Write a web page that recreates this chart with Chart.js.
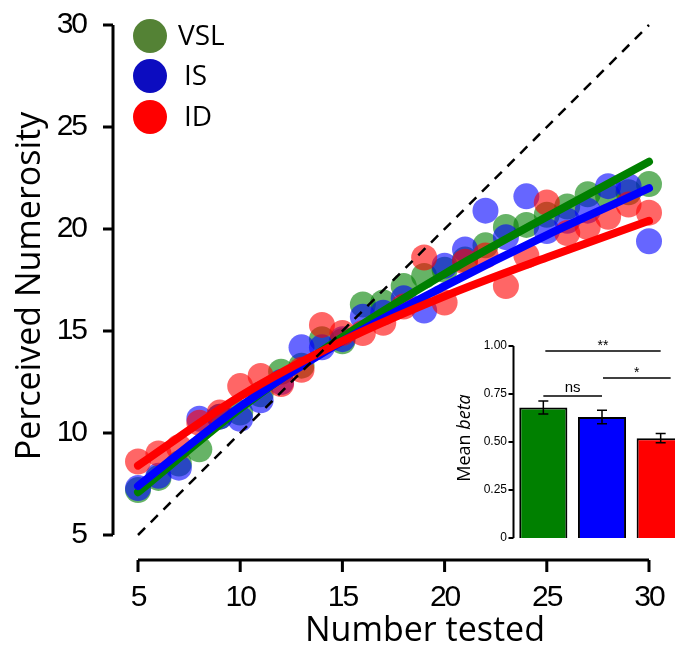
<!DOCTYPE html>
<html>
<head>
<meta charset="utf-8">
<script src="https://cdn.jsdelivr.net/npm/chart.js@4.4.1/dist/chart.umd.min.js"></script>
<style>
html,body{margin:0;padding:0;background:#fff;overflow:hidden}
#wrap{position:relative;width:675px;height:646px;overflow:hidden}
#main{position:absolute;left:0;top:0}
#inset{position:absolute;left:440px;top:330px}
</style>
</head>
<body>
<div id="wrap">
  <canvas id="main" width="675" height="646"></canvas>
  <canvas id="inset" width="250" height="230"></canvas>
</div>
<script>
// ---------- data ----------
const NUMBERS = [5,6,7,8,9,10,11,12,13,14,15,16,17,18,19,20,21,22,23,24,25,26,27,28,29,30];
const VSL = [7.2,7.8,8.5,9.2,10.8,11.0,11.9,13.0,13.3,14.6,14.5,16.3,16.4,17.2,17.7,18.0,18.5,19.2,20.1,20.2,20.7,21.1,21.7,21.6,21.8,22.2];
const IS  = [7.3,7.9,8.3,10.7,10.8,10.7,11.6,12.5,14.2,14.2,14.6,15.7,15.9,16.6,16.0,18.2,19.0,20.9,19.6,21.6,19.9,20.4,20.9,22.1,22.1,19.4];
const ID  = [8.6,9.0,9.3,10.5,11.0,12.3,12.8,12.4,13.1,15.3,14.9,14.9,15.4,16.2,18.6,16.4,18.4,18.7,17.2,18.7,21.3,19.8,20.1,20.6,21.2,20.8];

// fitted curves, sampled
const FIT_X   = [5,10,15,20,25,30];
const VSL_FIT = [7.1,11.2,14.7,17.8,20.6,23.3];
const IS_FIT  = [7.4,11.3,14.5,17.2,19.7,22.0];
const ID_FIT  = [8.4,11.8,14.5,16.7,18.6,20.4];

const AXIS_TICKS = [5,10,15,20,25,30];

// inset: mean beta per condition
const CONDITIONS = ["VSL","IS","ID"];
const BETA_MEAN  = [0.68,0.63,0.52];
const BETA_ERR   = [0.034,0.035,0.024];
const BETA_TICKS = [0,0.25,0.5,0.75,1];

// ---------- helpers ----------
const NARROW = "'Liberation Sans Narrow','Liberation Sans',Arial,sans-serif";
const SANS = "'Open Sans',Lato,sans-serif";
const pts = (xs,ys) => xs.map((x,i)=>({x,y:ys[i]}));

const COLORS = {
  VSL:{pt:"rgba(0,128,0,0.6)", line:"#008000", key:"#548235"},
  IS: {pt:"rgba(0,0,255,0.6)", line:"#0000ff", key:"#0c0cc0"},
  ID: {pt:"rgba(255,0,0,0.6)", line:"#ff0000", key:"#ff0000"}
};

function scatterSet(label,ys,order){
  return {type:"scatter",label,data:pts(NUMBERS,ys),order,clip:false,
    pointRadius:13,pointHoverRadius:13,borderWidth:0,
    backgroundColor:COLORS[label].pt,pointBackgroundColor:COLORS[label].pt};
}
function fitSet(label,ys,order){
  return {type:"line",label:label+" fit",data:pts(FIT_X,ys),order,clip:false,
    borderColor:COLORS[label].line,borderWidth:8,borderCapStyle:"round",
    pointRadius:0,fill:false,cubicInterpolationMode:"monotone"};
}

// axes drawn as offset frame + titles + legend
const framePlugin = {
  id:"frame",
  beforeDraw(chart){ chart.ctx.letterSpacing="-2px"; },
  afterDraw(chart){
    const {ctx,scales:{x,y}} = chart;
    const axX = 113, axY = 560;
    ctx.save();
    ctx.letterSpacing="0px";
    ctx.strokeStyle="#000"; ctx.lineWidth=3; ctx.lineCap="butt";
    ctx.beginPath();
    ctx.moveTo(axX,y.getPixelForValue(30)); ctx.lineTo(axX,y.getPixelForValue(5));
    y.ticks.forEach(t=>{const p=y.getPixelForValue(t.value);ctx.moveTo(axX,p);ctx.lineTo(axX-10,p);});
    ctx.moveTo(x.getPixelForValue(5),axY); ctx.lineTo(x.getPixelForValue(30),axY);
    x.ticks.forEach(t=>{const p=x.getPixelForValue(t.value);ctx.moveTo(p,axY);ctx.lineTo(p,axY+12);});
    ctx.stroke();

    ctx.fillStyle="#000";
    ctx.font="34px "+SANS;
    ctx.textAlign="center"; ctx.textBaseline="middle";
    ctx.fillText("Number tested",425,631);
    ctx.save();
    ctx.translate(30,286); ctx.rotate(-Math.PI/2);
    ctx.fillText("Perceived Numerosity",0,0);
    ctx.restore();

    // legend
    const keys = ["VSL","IS","ID"], ky=[36,76,117], kx=[178,184,184];
    ctx.font="28px "+SANS; ctx.textAlign="left";
    keys.forEach((k,i)=>{
      ctx.fillStyle=COLORS[k].key;
      ctx.beginPath(); ctx.arc(150,ky[i],17,0,Math.PI*2); ctx.fill();
      ctx.fillStyle="#000"; ctx.fillText(k,kx[i],ky[i]+1);
    });
    ctx.restore();
  }
};

new Chart(document.getElementById("main"),{
  data:{datasets:[
    {type:"line",label:"identity",data:pts([AXIS_TICKS[0],AXIS_TICKS[5]],[AXIS_TICKS[0],AXIS_TICKS[5]]),
     order:0,clip:false,borderColor:"#000",borderWidth:2.5,borderDash:[10,8],pointRadius:0,fill:false},
    fitSet("ID",ID_FIT,1),
    fitSet("IS",IS_FIT,2),
    fitSet("VSL",VSL_FIT,3),
    scatterSet("ID",ID,4),
    scatterSet("IS",IS,5),
    scatterSet("VSL",VSL,6)
  ]},
  options:{
    responsive:false,animation:false,
    layout:{padding:{top:25,right:26,left:0,bottom:0}},
    plugins:{legend:{display:false},tooltip:{enabled:false}},
    scales:{
      x:{type:"linear",min:5,max:30,
         afterBuildTicks(s){s.ticks=AXIS_TICKS.map(v=>({value:v}));},
         afterFit(s){s.height=111;s.paddingLeft=0;s.paddingRight=0;},
         grid:{display:false,drawTicks:false},border:{display:false},
         ticks:{padding:45,color:"#000",font:{family:NARROW,size:30}}},
      y:{type:"linear",min:5,max:30,
         afterBuildTicks(s){s.ticks=AXIS_TICKS.map(v=>({value:v}));},
         afterFit(s){s.width=138;s.paddingTop=0;s.paddingBottom=0;},
         grid:{display:false,drawTicks:false},border:{display:false},
         ticks:{padding:52,color:"#000",font:{family:NARROW,size:30}}}
    }
  },
  plugins:[framePlugin]
});

// ---------- inset ----------
const insetPlugin = {
  id:"insetDeco",
  afterDatasetsDraw(chart){
    const {ctx,scales:{x,y}} = chart;
    const meta = chart.getDatasetMeta(0);
    const ax = 73.5;
    ctx.save();
    ctx.strokeStyle="#000"; ctx.fillStyle="#000";
    // y axis
    ctx.lineWidth=2;
    ctx.beginPath();
    ctx.moveTo(ax,y.getPixelForValue(1)); ctx.lineTo(ax,y.getPixelForValue(0));
    y.ticks.forEach(t=>{const p=y.getPixelForValue(t.value);ctx.moveTo(ax,p);ctx.lineTo(ax-5,p);});
    ctx.stroke();
    // error bars
    ctx.lineWidth=1.5;
    ctx.beginPath();
    BETA_MEAN.forEach((m,i)=>{
      const cx = meta.data[i].x, hi=y.getPixelForValue(m+BETA_ERR[i]), lo=y.getPixelForValue(m-BETA_ERR[i]);
      ctx.moveTo(cx,hi); ctx.lineTo(cx,lo);
      ctx.moveTo(cx-5,hi); ctx.lineTo(cx+5,hi);
      ctx.moveTo(cx-5,lo); ctx.lineTo(cx+5,lo);
    });
    ctx.stroke();
    // significance brackets
    const sig = [[0,2,0.974,"**",2,0],[1,2,0.833,"*",1,10],[0,1,0.74,"ns",0,0]];
    ctx.textAlign="center"; ctx.textBaseline="alphabetic";
    sig.forEach(([a,b,v,txt,ext0,ext1])=>{
      const x0=meta.data[a].x+ext0, x1=meta.data[b].x+ext1, py=y.getPixelForValue(v);
      ctx.beginPath(); ctx.moveTo(x0,py); ctx.lineTo(x1,py); ctx.stroke();
      ctx.font=(txt==="ns"?"15px ":"14px ")+NARROW;
      ctx.fillText(txt,(x0+x1)/2,py-(txt==="ns"?4:1));
    });
    // axis title
    ctx.save();
    ctx.translate(25,108); ctx.rotate(-Math.PI/2);
    ctx.textBaseline="middle"; ctx.textAlign="left";
    ctx.font="18px "+SANS;
    const w1 = ctx.measureText("Mean ").width;
    ctx.font="italic 18px "+SANS;
    const w2 = ctx.measureText("beta").width;
    const start = -(w1+w2)/2;
    ctx.font="18px "+SANS; ctx.fillText("Mean ",start,0);
    ctx.font="italic 18px "+SANS; ctx.fillText("beta",start+w1,0);
    ctx.restore();
    ctx.restore();
  }
};

new Chart(document.getElementById("inset"),{
  type:"bar",
  data:{labels:CONDITIONS,datasets:[{
    data:BETA_MEAN,
    backgroundColor:CONDITIONS.map(c=>COLORS[c].line),
    borderColor:"#000",borderWidth:2,
    barPercentage:0.82,categoryPercentage:1
  }]},
  options:{
    responsive:false,animation:false,
    layout:{padding:{top:16,right:0,left:0,bottom:0}},
    plugins:{legend:{display:false},tooltip:{enabled:false}},
    scales:{
      x:{display:true,afterFit(s){s.height=22;s.paddingLeft=0;s.paddingRight=0;},grid:{display:false,drawTicks:false},border:{display:false},ticks:{display:false}},
      y:{min:0,max:1,
         afterBuildTicks(s){s.ticks=BETA_TICKS.map(v=>({value:v}));},
         afterFit(s){s.width=74;s.paddingTop=0;s.paddingBottom=0;},
         grid:{display:false,drawTicks:false},border:{display:false},
         ticks:{padding:7,color:"#000",font:{family:NARROW,size:12},
           callback:v=>v===0?"0":v.toFixed(2)}}
    }
  },
  plugins:[insetPlugin]
});
</script>
</body>
</html>
